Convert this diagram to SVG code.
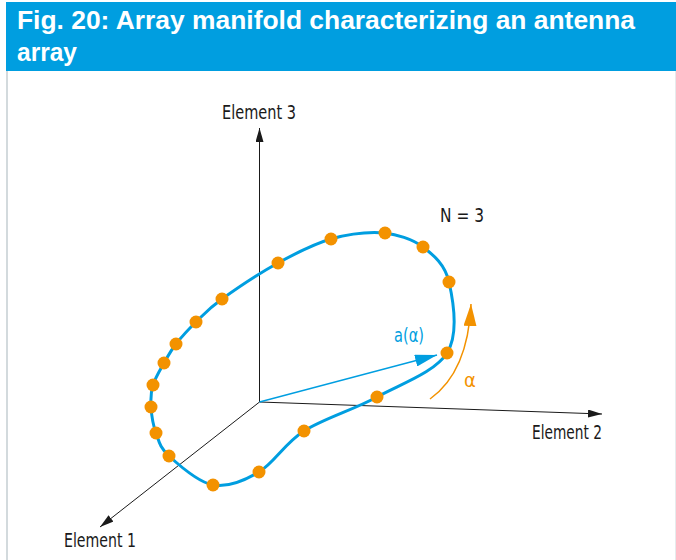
<svg xmlns="http://www.w3.org/2000/svg" width="676" height="560" viewBox="0 0 676 560">
<defs>
<style>
.title{font-family:"Liberation Sans","Arial",sans-serif;font-weight:bold;font-size:25px;fill:#ffffff}
.lbl{font-family:"Liberation Sans Narrow","DejaVu Sans Condensed","Liberation Sans",sans-serif;font-size:19px;fill:#1a1a1a}
.axis{stroke:#1a1a1a;stroke-width:1;fill:none}
.dot{fill:#f39200}
</style>
<marker id="ah" viewBox="0 0 14 8" refX="14" refY="4" markerWidth="14" markerHeight="8" markerUnits="userSpaceOnUse" orient="auto">
<path d="M0,0 L14,4 L0,8 Z" fill="#1a1a1a"/>
</marker>
<marker id="ahb" viewBox="0 0 22 12" refX="22" refY="6" markerWidth="22" markerHeight="12" markerUnits="userSpaceOnUse" orient="auto">
<path d="M0,0 L22,6 L0,12 Z" fill="#009ee0"/>
</marker>
<marker id="aho" viewBox="0 0 22 13" refX="22" refY="6.5" markerWidth="22" markerHeight="13" markerUnits="userSpaceOnUse" orient="auto">
<path d="M0,0 L22,6.5 L0,13 Z" fill="#f39200"/>
</marker>
</defs>
<rect x="0" y="0" width="676" height="560" fill="#ffffff"/>
<g id="header">
<rect x="6" y="2" width="670" height="69" fill="#009ee0"/>
<line x1="7" y1="71" x2="7" y2="560" stroke="#d3dadd" stroke-width="2"/>
<line x1="675.5" y1="71" x2="675.5" y2="560" stroke="#e6ebed" stroke-width="1"/>
<text class="title" x="17" y="29" textLength="618" lengthAdjust="spacingAndGlyphs">Fig. 20: Array manifold characterizing an antenna</text>
<text class="title" x="17" y="61" textLength="60" lengthAdjust="spacingAndGlyphs">array</text>
</g>
<g id="connectors">
<line id="axis3" class="axis" x1="259.5" y1="402" x2="259.5" y2="128" marker-end="url(#ah)"/>
<line id="axis2" class="axis" x1="259.5" y1="402" x2="602" y2="414" marker-end="url(#ah)"/>
<line id="axis1" class="axis" x1="259.5" y1="402" x2="100" y2="527" marker-end="url(#ah)"/>
<line id="vector" x1="259.5" y1="402" x2="437" y2="355" stroke="#009ee0" stroke-width="1.3" marker-end="url(#ahb)"/>
<path id="alpha-arc" d="M430,399 Q468,372 471,304" fill="none" stroke="#f39200" stroke-width="1.5" marker-end="url(#aho)"/>
</g>
<g id="manifold">
<path d="M447,353 C435,372.2 400.8,384 377,397 C353.2,410 323.7,418.5 304,431 C284.3,443.5 274.2,463 259,472 C243.8,481 228,487.7 213,485 C198,482.3 178.5,464.7 169,456 C159.5,447.3 159,441.2 156,433 C153,424.8 151.5,415 151,407 C150.5,399 150.8,392.3 153,385 C155.2,377.7 160.2,369.8 164,363 C167.8,356.2 170.7,350.8 176,344 C181.3,337.2 188.3,329.5 196,322 C203.7,314.5 208.3,308.8 222,299 C235.7,289.2 259.8,273 278,263 C296.2,253 313.2,244 331,239 C348.8,234 369.7,231.7 385,233 C395.7,234.3 412.3,238.8 423,247 C433.7,255.2 445,264.3 449,282 C453,299.7 459,333.8 447,353 Z" fill="none" stroke="#009ee0" stroke-width="3"/>
<g id="samples">
<circle class="dot" cx="447" cy="353" r="6.5"/>
<circle class="dot" cx="377" cy="397" r="6.5"/>
<circle class="dot" cx="304" cy="431" r="6.5"/>
<circle class="dot" cx="259" cy="472" r="6.5"/>
<circle class="dot" cx="213" cy="485" r="6.5"/>
<circle class="dot" cx="169" cy="456" r="6.5"/>
<circle class="dot" cx="156" cy="433" r="6.5"/>
<circle class="dot" cx="151" cy="407" r="6.5"/>
<circle class="dot" cx="153" cy="385" r="6.5"/>
<circle class="dot" cx="164" cy="363" r="6.5"/>
<circle class="dot" cx="176" cy="344" r="6.5"/>
<circle class="dot" cx="196" cy="322" r="6.5"/>
<circle class="dot" cx="222" cy="299" r="6.5"/>
<circle class="dot" cx="278" cy="263" r="6.5"/>
<circle class="dot" cx="331" cy="239" r="6.5"/>
<circle class="dot" cx="385" cy="233" r="6.5"/>
<circle class="dot" cx="423" cy="247" r="6.5"/>
<circle class="dot" cx="449" cy="282" r="6.5"/>
</g>
</g>
<g id="labels">
<text id="el3" class="lbl" x="222" y="119" textLength="74" lengthAdjust="spacingAndGlyphs">Element 3</text>
<text id="el2" class="lbl" x="532" y="439" textLength="70" lengthAdjust="spacingAndGlyphs">Element 2</text>
<text id="el1" class="lbl" x="64" y="547" textLength="72" lengthAdjust="spacingAndGlyphs">Element 1</text>
<text id="n" class="lbl" x="440" y="222" textLength="44" lengthAdjust="spacingAndGlyphs">N = 3</text>
<text id="avec" class="lbl" x="394" y="342" style="fill:#009ee0" textLength="30" lengthAdjust="spacingAndGlyphs">a(α)</text>
<text id="alpha" class="lbl" style="fill:#f39200;font-size:20px" x="464" y="387">α</text>
</g>
</svg>
